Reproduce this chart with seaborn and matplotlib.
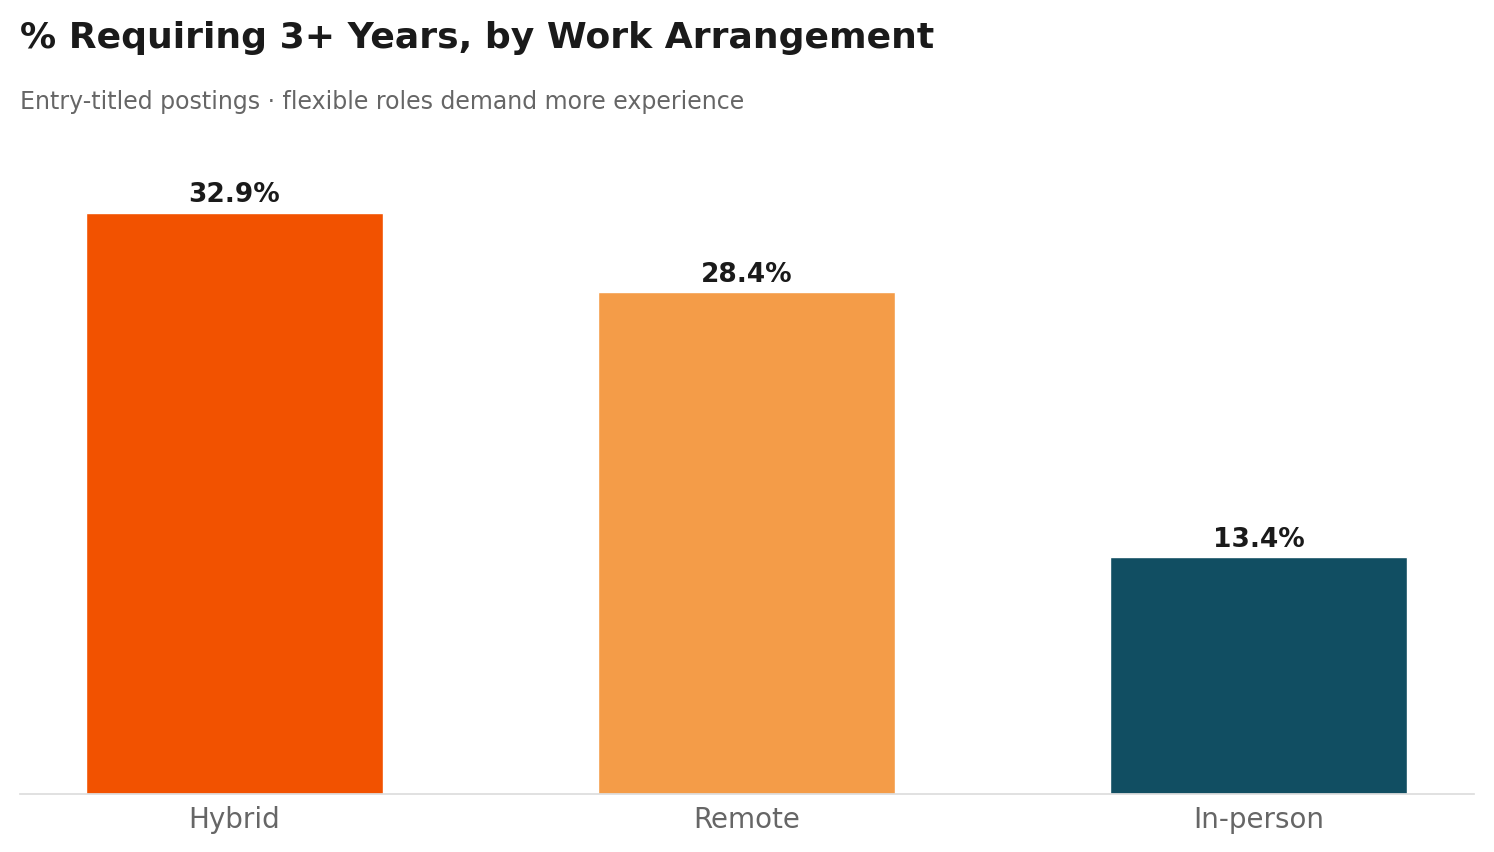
import seaborn as sns
import matplotlib.pyplot as plt
import pandas as pd

arrangements = ["Hybrid", "Remote", "In-person"]
share_3plus = [32.9, 28.4, 13.4]
bar_colors = ["#f25200", "#f49c48", "#114e62"]

sns.set_theme(style="white")
plt.rcParams['font.family'] = ['DejaVu Sans']

df = pd.DataFrame({"arr": arrangements, "pct": share_3plus})

fig = plt.figure(figsize=(14.94, 8.53), dpi=100)
ax = fig.add_axes([20 / 1494, 1 - 795 / 853, 1454 / 1494, (795 - 159) / 853])

sns.barplot(data=df, x="arr", y="pct", hue="arr", palette=bar_colors,
            width=0.58, saturation=1, legend=False, ax=ax)

for i, v in enumerate(share_3plus):
    ax.text(i, v + 0.3, f"{v}%", ha="center", va="bottom",
            fontsize=19, fontweight="bold", color="#1a1a1a")

ax.set_xlim(-0.418, 2.42)
ax.set_ylim(0, 36)
ax.set_xlabel("")
ax.set_ylabel("")
ax.set_yticks([])
ax.tick_params(axis="x", labelsize=20, labelcolor="#666666", length=0, pad=8)
sns.despine(ax=ax, left=True)
ax.spines["bottom"].set_color("#dddddd")

fig.text(20 / 1494, 1 - 38 / 853, "% Requiring 3+ Years, by Work Arrangement",
         fontsize=26, fontweight="bold", color="#1a1a1a", va="center")
fig.text(20 / 1494, 1 - 102 / 853, "Entry-titled postings · flexible roles demand more experience",
         fontsize=17, color="#666666", va="center")

fig.savefig("out.png", dpi=100)
